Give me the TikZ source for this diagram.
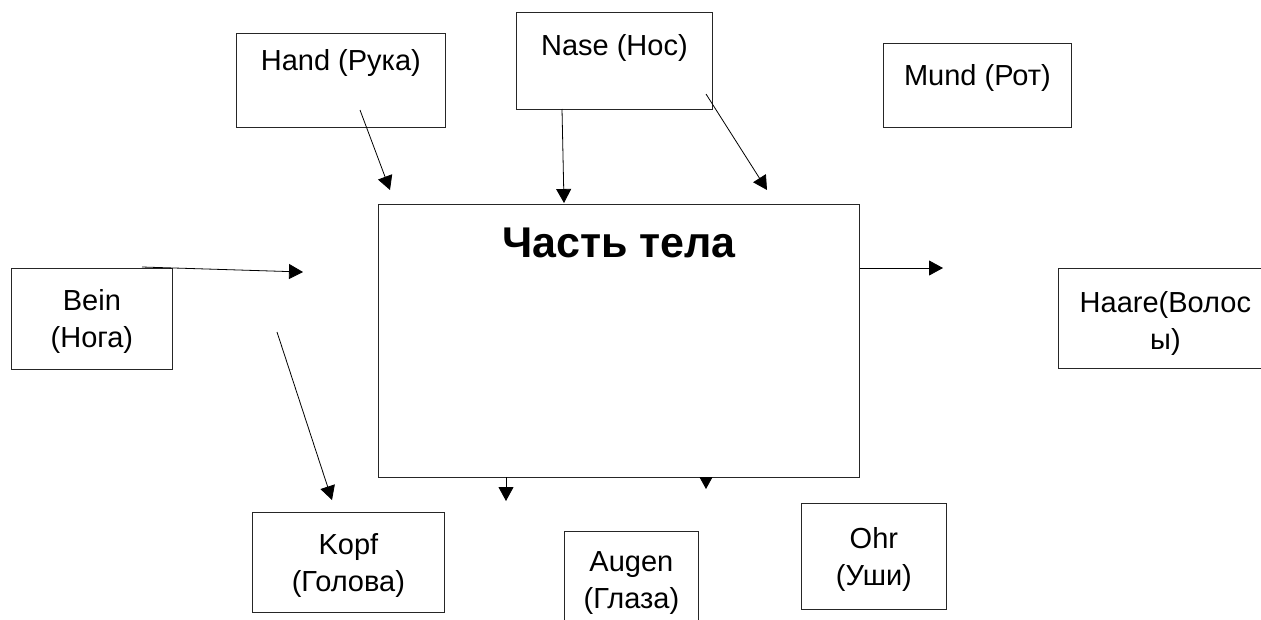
\documentclass[tikz,border=0pt]{standalone}
\usepackage{fontspec}
\setmainfont{Liberation Sans}
\usetikzlibrary{arrows.meta}

\begin{document}
\begin{tikzpicture}[x=1pt, y=-1pt,
    box/.style={draw=black!85, line width=0.8pt, inner sep=0pt, anchor=north west},
    toplbl/.style={anchor=north, inner sep=0pt, font=\fontsize{29}{37}\selectfont},
    midlbl/.style={anchor=center, inner sep=0pt, align=center, yshift=-3,
                   font=\fontsize{29}{37}\selectfont},
    arr/.style={-{Triangle[length=14pt, width=15pt]}, line width=0.8pt}]

  \useasboundingbox (0,0) rectangle (1261,619);

  % --- Kästen oben ---
  \node[box, minimum width=209, minimum height=94,
        label={[toplbl, yshift=-16]north:Hand (Рука)}] (hand) at (236,33) {};
  \node[box, minimum width=196, minimum height=97,
        label={[toplbl, yshift=-22]north:Nase (Нос)}] (nase) at (516,12) {};
  \node[box, minimum width=188, minimum height=84,
        label={[toplbl, yshift=-21]north:Mund (Рот)}] (mund) at (883,43) {};

  % --- Hauptkasten ---
  \node[box, minimum width=481, minimum height=273,
        label={[toplbl, yshift=-24, font=\fontsize{43}{50}\selectfont\bfseries]north:Часть тела}]
        (teil) at (378,204) {};

  % --- Kästen links und rechts ---
  \node[box, minimum width=161, minimum height=101,
        label={[midlbl]center:{Bein\\(Нога)}}] (bein) at (11,268) {};
  \node[box, minimum width=214, minimum height=100,
        label={[midlbl, yshift=-2]center:{Haare(Волос\\ы)}}] (haare) at (1058,268) {};

  % --- Kästen unten ---
  \node[box, minimum width=192, minimum height=100,
        label={[midlbl]center:{Kopf\\(Голова)}}] (kopf) at (252,512) {};
  \node[box, minimum width=134, minimum height=97,
        label={[midlbl]center:{Augen\\(Глаза)}}] (augen) at (564,531) {};
  \node[box, minimum width=145, minimum height=106,
        label={[midlbl]center:{Ohr\\(Уши)}}] (ohr) at (801,503) {};

  % --- Endpunkte der Pfeile ---
  \coordinate (handA) at (360,110);
  \coordinate (handB) at (390,190);
  \coordinate (naseA) at (562,109);
  \coordinate (naseB) at (564,203);
  \coordinate (naseC) at (706,94);
  \coordinate (naseD) at (767,190);
  \coordinate (beinA) at (142,267);
  \coordinate (beinB) at (303,272);
  \coordinate (haareB) at (943,268);
  \coordinate (kopfA) at (277,332);
  \coordinate (kopfB) at (332,500);
  \coordinate (untenA) at (506,477);
  \coordinate (untenB) at (506,501);
  \coordinate (untenC) at (706,477);
  \coordinate (untenD) at (706,489);

  % --- Pfeile ---
  \draw[arr] (handA) -- (handB);
  \draw[arr] (naseA) -- (naseB);
  \draw[arr] (naseC) -- (naseD);
  \draw[arr] (beinA) -- (beinB);
  \draw[arr] (teil.east |- haareB) -- (haareB);
  \draw[arr] (kopfA) -- (kopfB);
  \draw[arr] (untenA) -- (untenB);
  \draw[-{Triangle[length=12pt, width=13pt]}, line width=0.8pt] (untenC) -- (untenD);

\end{tikzpicture}
\end{document}
